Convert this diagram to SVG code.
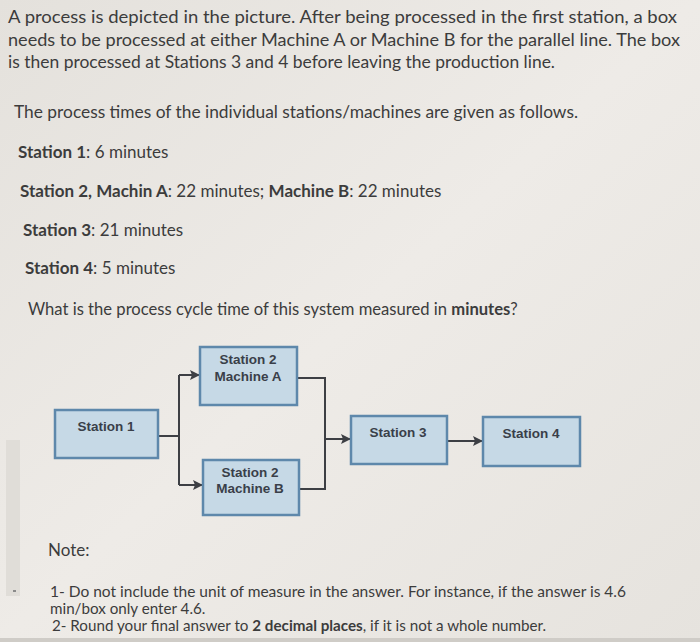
<svg xmlns="http://www.w3.org/2000/svg" width="700" height="642" viewBox="0 0 700 642">
<defs>
<linearGradient id="bg" x1="0" y1="0" x2="1" y2="1">
<stop offset="0" stop-color="#e4e1dc"/>
<stop offset="0.5" stop-color="#eeebe7"/>
<stop offset="1" stop-color="#e6e3de"/>
</linearGradient>
<marker id="arr" viewBox="0 0 10 10" refX="10" refY="5" markerWidth="10" markerHeight="10" markerUnits="userSpaceOnUse" orient="auto">
<path d="M0,0 L10,5 L0,10 L2,5 Z" fill="#3d3f44"/>
</marker>
<style>
.t{font-family:Lato,"Liberation Sans",sans-serif;font-size:17px;fill:#3c3c3c}
.p{font-size:18px}
.q{font-size:16.6px}
.n{font-size:15.2px}
.b{font-weight:bold}
.box{fill:#c6d9e6;stroke:#5e88ab;stroke-width:2.5}
.lbl{font-family:"Liberation Sans",Arial,sans-serif;font-size:13.5px;font-weight:bold;fill:#3a3f49;text-anchor:middle}
.ln{fill:none;stroke:#3d3f44;stroke-width:2}
</style>
</defs>
<rect width="700" height="642" fill="url(#bg)"/>
<rect x="6" y="440" width="14" height="156" fill="#e0ddd8"/>
<rect x="13" y="590" width="3" height="2" fill="#8a8a8a"/>
<rect x="0" y="638" width="700" height="4" fill="#cfccc7"/>

<g id="text">
<text class="t p" x="8" y="23" textLength="669" lengthAdjust="spacingAndGlyphs">A process is depicted in the picture. After being processed in the first station, a box</text>
<text class="t p" x="8" y="46" textLength="672" lengthAdjust="spacingAndGlyphs">needs to be processed at either Machine A or Machine B for the parallel line. The box</text>
<text class="t p" x="8" y="68" textLength="547" lengthAdjust="spacingAndGlyphs">is then processed at Stations 3 and 4 before leaving the production line.</text>
<text class="t" x="14" y="118" textLength="564" lengthAdjust="spacingAndGlyphs">The process times of the individual stations/machines are given as follows.</text>
<text class="t" x="18" y="158"><tspan class="b">Station 1</tspan>: 6 minutes</text>
<text class="t" x="20" y="197"><tspan class="b">Station 2, Machin A</tspan>: 22 minutes; <tspan class="b">Machine B</tspan>: 22 minutes</text>
<text class="t" x="23" y="236"><tspan class="b">Station 3</tspan>: 21 minutes</text>
<text class="t" x="25" y="274"><tspan class="b">Station 4</tspan>: 5 minutes</text>
<text class="t q" x="28" y="315">What is the process cycle time of this system measured in <tspan class="b">minutes</tspan>?</text>
<text class="t" x="48" y="556">Note:</text>
<text class="t n" x="50" y="597" textLength="576" lengthAdjust="spacingAndGlyphs">1- Do not include the unit of measure in the answer. For instance, if the answer is 4.6</text>
<text class="t n" x="50" y="614">min/box only enter 4.6.</text>
<text class="t n" x="52" y="631">2- Round your final answer to <tspan class="b">2 decimal places</tspan>, if it is not a whole number.</text>
</g>

<g id="connectors">
<path class="ln" d="M158,436 H179"/>
<path class="ln" d="M179,375 V485"/>
<path class="ln" d="M179,375 H200" marker-end="url(#arr)"/>
<path class="ln" d="M179,485 H203" marker-end="url(#arr)"/>
<path class="ln" d="M297,378 H325 V489 H299"/>
<path class="ln" d="M325,439 H351" marker-end="url(#arr)"/>
<path class="ln" d="M447,441 H483" marker-end="url(#arr)"/>
</g>

<g id="station1">
<rect class="box" x="55" y="410" width="103" height="48"/>
<text class="lbl" x="106" y="431">Station 1</text>
</g>
<g id="machineA">
<rect class="box" x="200" y="347" width="97" height="58"/>
<text class="lbl" x="248" y="364">Station 2</text>
<text class="lbl" x="248" y="381">Machine A</text>
</g>
<g id="machineB">
<rect class="box" x="203" y="460" width="96" height="55"/>
<text class="lbl" x="250" y="477">Station 2</text>
<text class="lbl" x="250" y="493">Machine B</text>
</g>
<g id="station3">
<rect class="box" x="351" y="416" width="96" height="48"/>
<text class="lbl" x="398" y="437">Station 3</text>
</g>
<g id="station4">
<rect class="box" x="483" y="417" width="97" height="49"/>
<text class="lbl" x="531" y="438">Station 4</text>
</g>
</svg>
